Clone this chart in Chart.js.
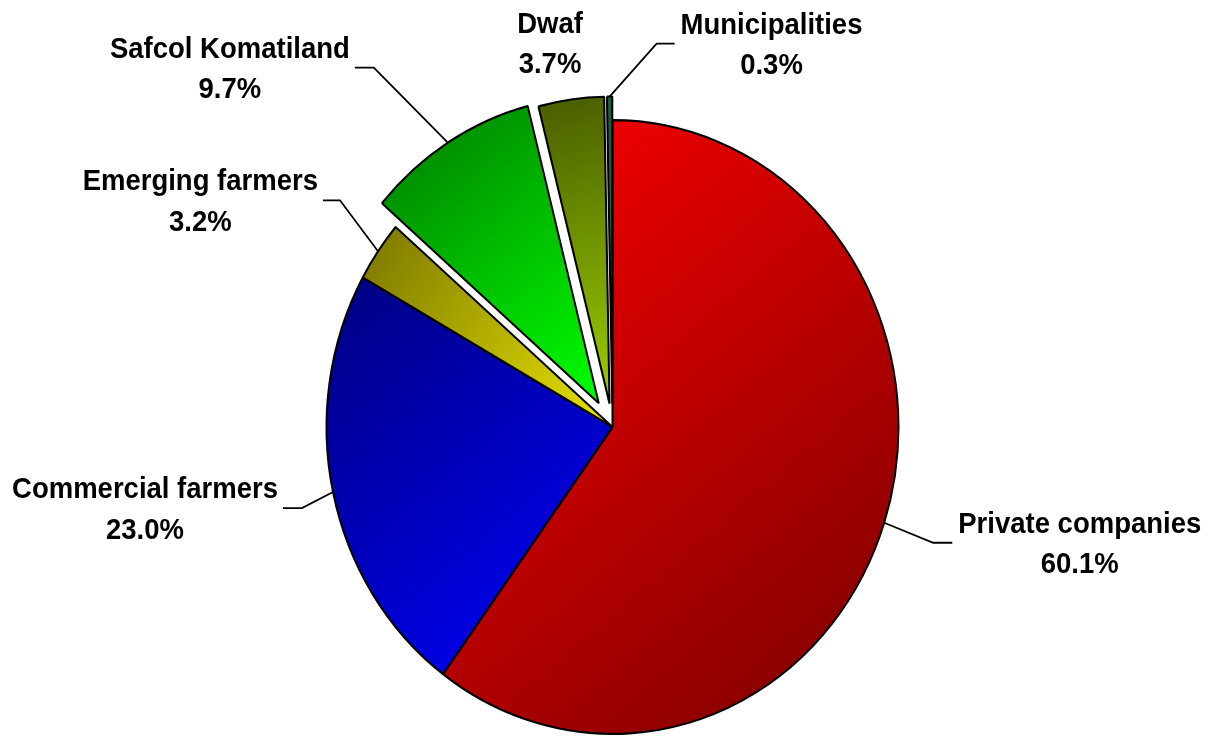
<!DOCTYPE html>
<html>
<head>
<meta charset="utf-8">
<script src="https://cdn.jsdelivr.net/npm/chart.js@4.4.1/dist/chart.umd.min.js"></script>
<style>
html, body { margin: 0; padding: 0; background: #fff; }
#wrap { width: 1207px; height: 736px; }
</style>
</head>
<body>
<div id="wrap"><canvas id="pieChart"></canvas></div>
<script>
const categories = ["Private companies", "Commercial farmers", "Emerging farmers", "Safcol Komatiland", "Dwaf", "Municipalities"];
const shares = [60.1, 23.0, 3.2, 9.7, 3.7, 0.3];

// slice gradients, top-left colour -> bottom-right colour
const fillFrom = ["#ff0000", "#000080", "#7a7600", "#007800", "#485c00", "#1e5a3c"];
const fillTo   = ["#780000", "#0000ff", "#e8e400", "#00ff00", "#9ccf00", "#2a6a48"];
const explode  = [0, 0, 0, 26, 22, 22];

// leader elbow relative to slice edge, and horizontal tail length
const labelPlace = [
  { elbow: [49, 20], tail: 19 },
  { elbow: [-31, 16], tail: -19 },
  { elbow: [-38, -51], tail: -17 },
  { elbow: [-74, -75], tail: -19 },
  { text: [-21, -57] },
  { elbow: [47, -53], tail: 18 }
];

const RADIUS = 286;
const STRETCH = 1.073;   // the original pie is a little taller than wide

function sliceFill(c) {
  const i = c.dataIndex;
  const chart = c.chart;
  const area = chart.chartArea;
  if (!area) return fillFrom[i];
  const cx = (area.left + area.right) / 2;
  const cy = (area.top + area.bottom) / 2;
  const total = shares.reduce((a, b) => a + b, 0);
  let before = 0;
  for (let k = 0; k < i; k++) before += shares[k];
  const a0 = -Math.PI / 2 + 2 * Math.PI * before / total;
  const a1 = a0 + 2 * Math.PI * shares[i] / total;
  let minX = cx, maxX = cx, minY = cy, maxY = cy;
  for (let s = 0; s <= 32; s++) {
    const a = a0 + (a1 - a0) * s / 32;
    const x = cx + Math.cos(a) * RADIUS;
    const y = cy + Math.sin(a) * RADIUS;
    minX = Math.min(minX, x); maxX = Math.max(maxX, x);
    minY = Math.min(minY, y); maxY = Math.max(maxY, y);
  }
  const g = chart.ctx.createLinearGradient(minX, minY, maxX, maxY);
  g.addColorStop(0, fillFrom[i]);
  g.addColorStop(1, fillTo[i]);
  return g;
}

function stretchedText(ctx, t, x, y) {
  ctx.save();
  ctx.translate(x, y);
  ctx.scale(1, STRETCH);
  ctx.fillText(t, 0, 0);
  ctx.restore();
}

const explodedPie = {
  id: 'explodedPie',
  beforeDatasetDraw(chart, args) {
    const ctx = chart.ctx;
    const arcs = args.meta.data;
    const cy = arcs[0].y;
    ctx.save();
    ctx.translate(0, cy);
    ctx.scale(1, STRETCH);
    ctx.translate(0, -cy);
    arcs.forEach((arc, i) => {
      const mid = (arc.startAngle + arc.endAngle) / 2;
      ctx.save();
      ctx.translate(Math.cos(mid) * explode[i], Math.sin(mid) * explode[i]);
      arc.draw(ctx);
      ctx.restore();
    });
    ctx.restore();
    return false;
  },
  afterDraw(chart) {
    const ctx = chart.ctx;
    const arcs = chart.getDatasetMeta(0).data;
    ctx.save();
    ctx.font = 'bold 27.5px "Liberation Sans", Arial, sans-serif';
    ctx.fillStyle = '#000';
    ctx.strokeStyle = '#000';
    ctx.lineWidth = 1.8;
    ctx.textAlign = 'center';
    ctx.textBaseline = 'alphabetic';
    arcs.forEach((arc, i) => {
      const mid = (arc.startAngle + arc.endAngle) / 2;
      const r = arc.outerRadius + explode[i];
      const ex = arc.x + Math.cos(mid) * r;
      const ey = arc.y + Math.sin(mid) * r * STRETCH;
      const p = labelPlace[i];
      const lines = [categories[i], shares[i].toFixed(1) + '%'];
      const w = Math.max(...lines.map(t => ctx.measureText(t).width));
      let tx, ty;
      if (p.elbow) {
        const bx = ex + p.elbow[0], by = ey + p.elbow[1];
        const endX = bx + p.tail;
        ctx.beginPath();
        ctx.moveTo(ex, ey);
        ctx.lineTo(bx, by);
        ctx.lineTo(endX, by);
        ctx.stroke();
        tx = p.tail > 0 ? endX + 6 + w / 2 : endX - 5 - w / 2;
        ty = by;
      } else {
        tx = ex + p.text[0];
        ty = ey + p.text[1];
      }
      stretchedText(ctx, lines[0], tx, ty - 10);
      stretchedText(ctx, lines[1], tx, ty + 30.5);
    });
    ctx.restore();
  }
};

new Chart(document.getElementById("pieChart"), {
  type: 'pie',
  data: {
    labels: categories,
    datasets: [{
      data: shares,
      backgroundColor: sliceFill,
      borderColor: '#000',
      borderWidth: 2
    }]
  },
  options: {
    responsive: true,
    maintainAspectRatio: false,
    animation: false,
    radius: RADIUS,
    layout: { padding: { left: 18, right: 0, top: 118, bottom: 0 } },
    plugins: {
      legend: { display: false },
      tooltip: { enabled: false },
      title: { display: false }
    }
  },
  plugins: [explodedPie]
});
</script>
</body>
</html>
